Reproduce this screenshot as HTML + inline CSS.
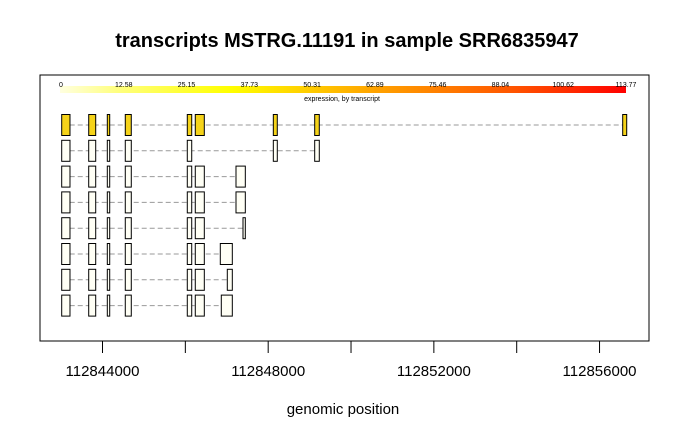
<!DOCTYPE html>
<html><head><meta charset="utf-8"><style>
body{margin:0;background:#fff;}
svg text{font-family:"Liberation Sans",Arial,sans-serif;}
</style></head><body>
<svg id="chart" width="688" height="437" xmlns="http://www.w3.org/2000/svg">
<defs><linearGradient id="heat" x1="0" x2="1" y1="0" y2="0">
<stop offset="0" stop-color="#ffffe0"/><stop offset="0.1" stop-color="#ffff80"/><stop offset="0.3" stop-color="#ffff00"/><stop offset="0.55" stop-color="#ffa500"/><stop offset="0.8" stop-color="#ff5500"/><stop offset="1" stop-color="#ff0000"/></linearGradient></defs>
<rect width="688" height="437" fill="#fff"/>
<text x="347" y="47" text-anchor="middle" font-size="20" font-weight="bold">transcripts MSTRG.11191 in sample SRR6835947</text>
<rect x="40" y="75" width="609" height="266" fill="none" stroke="#000" stroke-width="1"/>
<rect x="60" y="86" width="566" height="7" fill="url(#heat)"/>
<text x="342" y="101" text-anchor="middle" font-size="7">expression, by transcript</text>
<g id="legendLabels"></g>
<g id="tracks"></g>
<g id="axis"></g>
<text x="343" y="414" text-anchor="middle" font-size="15">genomic position</text>
</svg>
<script>
const legendLabels=["0","12.58","25.15","37.73","50.31","62.89","75.46","88.04","100.62","113.77"];
const tickValues=[112842000,112844000,112846000,112848000,112850000,112852000,112854000,112856000];
const tickLabels=["","112844000","","112848000","","112852000","","112856000"];
const exonStarts=[
[112843015,112843667,112844116,112844550,112846047,112846240,112848124,112849123,112856559],
[112843015,112843667,112844116,112844550,112846047,112848124,112849123],
[112843015,112843667,112844116,112844550,112846047,112846240,112847223],
[112843015,112843667,112844116,112844550,112846047,112846240,112847223],
[112843015,112843667,112844116,112844550,112846047,112846240,112847392],
[112843015,112843667,112844116,112844550,112846047,112846240,112846844],
[112843015,112843667,112844116,112844550,112846047,112846240,112847013],
[112843015,112843667,112844116,112844550,112846047,112846240,112846868]];
const exonEnds=[
[112843215,112843836,112844174,112844695,112846154,112846458,112848220,112849234,112856656],
[112843215,112843836,112844174,112844695,112846154,112848220,112849234],
[112843215,112843836,112844174,112844695,112846154,112846458,112847448],
[112843215,112843836,112844174,112844695,112846154,112846458,112847448],
[112843215,112843836,112844174,112844695,112846154,112846458,112847448],
[112843215,112843836,112844174,112844695,112846154,112846458,112847134],
[112843215,112843836,112844174,112844695,112846154,112846458,112847134],
[112843215,112843836,112844174,112844695,112846154,112846458,112847134]];
const expression=[20,0,0,0,0,0,0,0];
const NS="http://www.w3.org/2000/svg";
function xs(g){return 102.5+(g-112844000)*0.04142;}
function ys(i){return 114.5+i*25.8;}
function col(v){if(v<=0)return "#fffff5";return "#f5d31a";}
function mk(t,a,p){const e=document.createElementNS(NS,t);for(const k in a)e.setAttribute(k,a[k]);p.appendChild(e);return e;}
const lg=document.getElementById('legendLabels');
legendLabels.forEach((l,i)=>{const t=mk('text',{x:61+i*(565/9),y:87,'text-anchor':'middle','font-size':'7'},lg);

t.textContent=l;});
const tr=document.getElementById('tracks');
exonStarts.forEach((st,i)=>{const y=ys(i),h=21;
const g=mk('g',{},tr);


const en=exonEnds[i];
const ln=mk('line',{x1:xs(st[0]),x2:xs(en[en.length-1]),y1:y+h/2,y2:y+h/2,stroke:'#999','stroke-dasharray':'5,3','stroke-width':1},g);


st.forEach((s,j)=>{const r=mk('rect',{x:xs(s),y:y,width:xs(en[j])-xs(s),height:h,fill:col(expression[i]),stroke:'#000','stroke-width':1},g);

});});
const ax=document.getElementById('axis');
tickValues.forEach((v,i)=>{const x=xs(v);if(x<40||x>649)return;
const l=mk('line',{x1:x,x2:x,y1:341,y2:353,stroke:'#000'},ax);


if(tickLabels[i]){const t=mk('text',{x:x,y:376,'text-anchor':'middle','font-size':'15'},ax);

t.textContent=tickLabels[i];}});
</script>
</body></html>
